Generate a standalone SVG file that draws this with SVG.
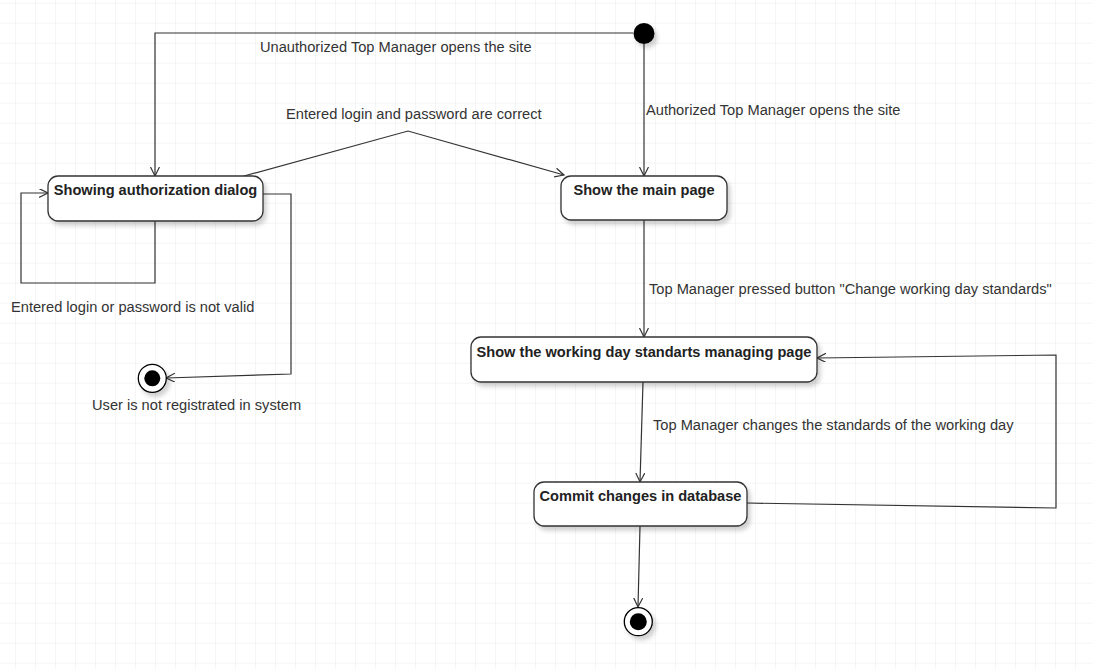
<svg xmlns="http://www.w3.org/2000/svg" width="1093" height="669" viewBox="0 0 1093 669">
<style>
.node rect{fill:#fff;stroke:#333;stroke-width:1.3;filter:url(#sh)}
.node text{font-family:"Liberation Sans",Arial,sans-serif;font-weight:bold;font-size:14.6px;fill:#222;text-anchor:middle}
.lbl{font-family:"Liberation Sans",Arial,sans-serif;font-size:14.65px;fill:#333}
.edge{fill:none;stroke:#333;stroke-width:1.2;marker-end:url(#arr)}
.dot{fill:#000}
.ring{fill:#fff;stroke:#000;stroke-width:1.3;filter:url(#sh)}
</style>
<defs>
<pattern id="grid" x="15" y="2.7" width="20" height="20" patternUnits="userSpaceOnUse">
<path d="M0,0 H20 M0,0 V20" stroke="#ebebeb" stroke-width="1" fill="none"/>
</pattern>
<filter id="sh" x="-20%" y="-20%" width="150%" height="160%">
<feDropShadow dx="3" dy="4" stdDeviation="2" flood-color="#000" flood-opacity="0.18"/>
</filter>
<marker id="arr" markerWidth="12" markerHeight="12" refX="9" refY="4.5" orient="auto" markerUnits="userSpaceOnUse">
<path d="M0,0 L9,4.5 L0,9" fill="none" stroke="#333" stroke-width="1.2"/>
</marker>
</defs>
<rect width="1093" height="669" fill="#fff"/>
<rect width="1093" height="669" fill="url(#grid)"/>

<g id="connectors">
<polyline class="edge" points="633,33 155,33 155,176"/>
<polyline class="edge" points="644,44 644,176"/>
<polyline class="edge" points="244,176 408,131 564,175"/>
<polyline class="edge" points="155,221 155,283 21,283 21,193 48,193"/>
<polyline class="edge" points="263,194 291,194 291,374 166,378"/>
<polyline class="edge" points="644,220 644,337"/>
<polyline class="edge" points="643,382 640,482"/>
<polyline class="edge" points="747,503 1056,508 1056,355 817,358"/>
<polyline class="edge" points="640,526 638,607"/>
<text class="lbl" x="260" y="52">Unauthorized Top Manager opens the site</text>
<text class="lbl" x="646" y="115">Authorized Top Manager opens the site</text>
<text class="lbl" x="286" y="119">Entered login and password are correct</text>
<text class="lbl" x="11" y="312">Entered login or password is not valid</text>
<text class="lbl" x="649" y="294">Top Manager pressed button "Change working day standards"</text>
<text class="lbl" x="653" y="430">Top Manager changes the standards of the working day</text>
</g>

<g id="start">
<circle cx="644" cy="33.5" r="10.5" class="dot" filter="url(#sh)"/>
</g>

<g id="auth-dialog" class="node">
<rect x="48" y="176" width="215" height="45" rx="10"/>
<text x="155.5" y="195">Showing authorization dialog</text>
</g>

<g id="main-page" class="node">
<rect x="561" y="176" width="166" height="44" rx="10"/>
<text x="644" y="195">Show the main page</text>
</g>

<g id="standards-page" class="node">
<rect x="471" y="337" width="346" height="45" rx="10"/>
<text x="644" y="357">Show the working day standarts managing page</text>
</g>

<g id="commit" class="node">
<rect x="534" y="482" width="213" height="44" rx="10"/>
<text x="640.5" y="501">Commit changes in database</text>
</g>

<g id="end-not-registered">
<circle cx="152.3" cy="378.3" r="14" class="ring"/>
<circle cx="152.3" cy="378.3" r="8" class="dot"/>
<text class="lbl" x="92" y="410">User is not registrated in system</text>
</g>

<g id="end">
<circle cx="638.3" cy="621.7" r="14" class="ring"/>
<circle cx="638.3" cy="621.7" r="8.5" class="dot"/>
</g>
</svg>
